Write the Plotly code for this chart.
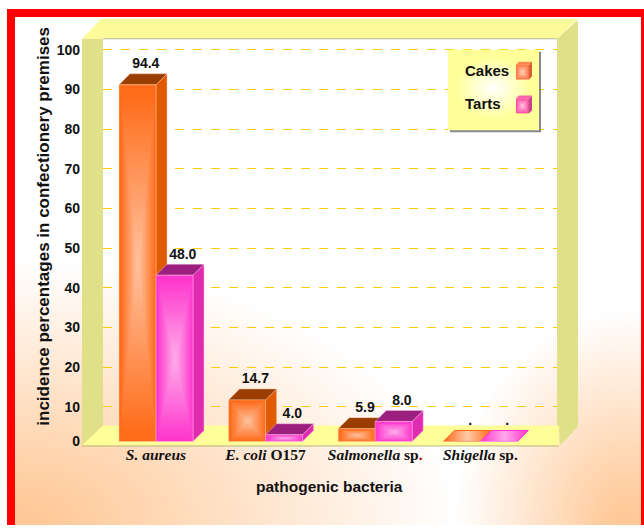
import base64, struct, zlib
import numpy as np
import plotly.graph_objects as go

# ---- data ----
categories = ["<b><i>S. aureus</i></b>", "<b><i>E. coli</i> O157</b>",
              '<b><i>Salmonella</i> sp<span style="color:#a00000">.</span></b>',
              "<b><i>Shigella</i> sp.</b>"]
cakes_labels = ["94.4", "14.7", "5.9", "."]
tarts_labels = ["48.0", "4.0", "8.0", "."]
# front-face heights as actually drawn in the picture
cakes_heights = [94.4, 11.0, 3.4, 0.0]
tarts_heights = [44.0, 1.8, 5.3, 0.0]
category_positions = [0, 1, 2, 2.96]
grid_ticks = [10, 20, 30, 40, 50, 60, 70, 80, 90, 100]

W, H = 644, 528
px = lambda x: x / W
py = lambda y: 1 - y / H

# ---- raster helper for soft backgrounds ----
def png_uri(rgb):
    rgb = np.clip(rgb, 0, 255).astype(np.uint8)
    h, w, _ = rgb.shape
    raw = b"".join(b"\x00" + rgb[r].tobytes() for r in range(h))
    def chunk(t, d):
        return struct.pack(">I", len(d)) + t + d + struct.pack(">I", zlib.crc32(t + d) & 0xffffffff)
    data = (b"\x89PNG\r\n\x1a\n" + chunk(b"IHDR", struct.pack(">IIBBBBB", w, h, 8, 2, 0, 0, 0))
            + chunk(b"IDAT", zlib.compress(raw)) + chunk(b"IEND", b""))
    return "data:image/png;base64," + base64.b64encode(data).decode()

yy, xx = np.mgrid[0:H, 0:W]
t1 = np.clip(1 - np.sqrt(((xx - 15) / 440.0) ** 2 + ((yy - 528) / 265.0) ** 2), 0, 1)
t2 = np.clip(1 - np.sqrt(((xx - 625) / 170.0) ** 2 + ((yy - 528) / 215.0) ** 2), 0, 1)
t = np.clip(np.maximum(t1, t2) * 1.05, 0, 1)[..., None]
bg = (1 - t) * np.array([255, 255, 255]) + t * np.array([255, 200, 150])

lh, lw = 81, 91
ly, lx = np.mgrid[0:lh, 0:lw]
lt = np.clip(1 - np.sqrt(((lx - 45) / 38.0) ** 2 + ((ly - 38) / 32.0) ** 2), 0, 1)[..., None]
legend_bg = (1 - lt) * np.array([255, 255, 153]) + lt * np.array([255, 255, 255])

def pillow(w, h, edge, center):
    y, x = np.mgrid[0:h, 0:w]
    u = 1 - np.abs(2 * (x + .5) / w - 1)
    v = 1 - np.abs(2 * (y + .5) / h - 1)
    m = np.minimum(u, v)[..., None]
    return (1 - m) * np.array(edge) + m * np.array(center)

images = [
    dict(source=png_uri(bg), xref="paper", yref="paper", x=0, y=1, sizex=1, sizey=1,
         sizing="stretch", xanchor="left", yanchor="top", layer="below"),
    dict(source=png_uri(legend_bg), xref="paper", yref="paper", x=px(448), y=py(50),
         sizex=91 / W, sizey=81 / H, sizing="stretch", xanchor="left", yanchor="top", layer="above"),
    dict(source=png_uri(pillow(13, 15, (255, 110, 60), (255, 215, 190))), xref="paper", yref="paper",
         x=px(516), y=py(65), sizex=13 / W, sizey=15 / H, sizing="stretch", xanchor="left", yanchor="top", layer="above"),
    dict(source=png_uri(pillow(13, 15, (255, 70, 160), (255, 200, 225))), xref="paper", yref="paper",
         x=px(516), y=py(99), sizex=13 / W, sizey=15 / H, sizing="stretch", xanchor="left", yanchor="top", layer="above"),
]

def poly(points, fill, layer="below", line=None):
    path = "M" + " L".join(f"{px(x):.5f},{py(y):.5f}" for x, y in points) + " Z"
    return dict(type="path", path=path, xref="paper", yref="paper", fillcolor=fill, layer=layer,
                line=dict(width=0 if line is None else 1, color=line or fill))

WALL, BAND, FLOOR = "#e0e088", "#fdfb99", "#ffff99"
shapes = [
    poly([(82, 39), (103, 39), (103, 428), (82, 448)], WALL),
    poly([(82, 39), (101, 19), (578, 19), (557, 39)], BAND),
    poly([(82, 448), (103, 428), (559, 428), (559, 448)], FLOOR),
    poly([(557, 39), (578, 20), (578, 429), (560, 448), (559, 428), (557, 428)], WALL),
    dict(type="line", xref="paper", yref="paper", x0=px(103), x1=px(557), y0=py(39), y1=py(39),
         line=dict(color="#b8b8a0", width=1), layer="below"),
    dict(type="line", xref="paper", yref="paper", x0=px(82), x1=px(559), y0=py(448.5), y1=py(448.5),
         line=dict(color="#b8b870", width=1), layer="below"),
    # page frame
    poly([(7, 9), (644, 9), (644, 17), (15, 17), (15, 528), (7, 528)], "#ff0000"),
    poly([(641, 17), (644, 17), (644, 528), (641, 528)], "#ff0000"),
    # white outside the frame
    poly([(0, 0), (644, 0), (644, 9), (7, 9), (7, 528), (0, 528)], "#ffffff"),
    # legend shadow and swatch faces
    poly([(539, 52), (541, 52), (541, 133), (450, 133), (450, 131), (539, 131)], "#888888", "above"),
    poly([(516, 65), (519, 62), (532, 62), (529, 65)], "#ff8850", "above"),
    poly([(529, 65), (532, 62), (532, 77), (529, 80)], "#d86038", "above"),
    poly([(516, 99), (519, 96), (532, 96), (529, 99)], "#ff60b0", "above"),
    poly([(529, 99), (532, 96), (532, 111), (529, 114)], "#c04888", "above"),
]

# ---- axes geometry ----
BW = 0.3376           # bar width in category units
DX = 11 / 109.6       # 3D depth, x
DY = 2.9              # 3D depth, y
LIFT = 2.4            # label lift above the top face
X_RANGE = [-0.4836, 3.659]
Y_RANGE = [0, 107.8]
FRONT_RANGE = [-1.316, 111.84]
DOMAIN = [py(449), py(19)]

series = [
    dict(name="Cakes", heights=cakes_heights, labels=cakes_labels, off=-BW, front="#ff6814",
         side="#e05a00", top="#993d00", line="rgba(255,200,165,0.45)", mid="#ffcba8"),
    dict(name="Tarts", heights=tarts_heights, labels=tarts_labels, off=0.0, front="#ff33cc",
         side="#e02ab0", top="#9b1f7f", line="rgba(255,190,235,0.45)", mid="#ffa8ec"),
]

fig = go.Figure()

# keeps the back-wall axis (grid and tick labels) alive
fig.add_trace(go.Scatter(x=[0], y=[0], mode="markers", marker=dict(opacity=0), yaxis="y",
                         showlegend=False, hoverinfo="skip"))

# side and top faces
for s in series:
    for pos, h in zip(category_positions, s["heights"]):
        x0, x1 = pos + s["off"], pos + s["off"] + BW
        if h > 0:
            fig.add_trace(go.Scatter(x=[x1, x1 + DX, x1 + DX, x1, x1], y=[h, h + DY, DY, 0, h],
                                     fill="toself", fillcolor=s["side"], mode="lines",
                                     line=dict(width=1, color=s["line"]), yaxis="y2",
                                     showlegend=False, hoverinfo="skip"))
            fig.add_trace(go.Scatter(x=[x0, x1, x1 + DX, x0 + DX, x0], y=[h, h, h + DY, h + DY, h],
                                     fill="toself", fillcolor=s["top"], mode="lines",
                                     line=dict(width=1, color=s["line"]), yaxis="y2",
                                     showlegend=False, hoverinfo="skip"))
        else:
            fig.add_trace(go.Scatter(x=[x0, x1, x1 + DX, x0 + DX, x0], y=[h, h, h + DY, h + DY, h],
                                     fill="toself", mode="lines", line=dict(width=1, color=s["front"]),
                                     fillgradient=dict(type="horizontal",
                                                       colorscale=[[0, s["front"]], [0.5, s["mid"]], [1, s["front"]]]),
                                     yaxis="y2", showlegend=False, hoverinfo="skip"))

# front faces
for s in series:
    fig.add_trace(go.Bar(x=category_positions, y=s["heights"], name=s["name"], width=BW, offset=s["off"],
                         marker_color=s["front"], marker_line=dict(width=1, color=s["line"]),
                         yaxis="y3", showlegend=False, hoverinfo="x+y"))

# soft shading over the front faces
N = 24
m = (np.arange(N) + .5) / N
shade = np.minimum.outer(1 - np.abs(2 * m - 1), 1 - np.abs(2 * m - 1))
for s in series:
    for pos, h in zip(category_positions, s["heights"]):
        if h <= 0:
            continue
        x0 = pos + s["off"]
        fig.add_trace(go.Heatmap(x=np.linspace(x0, x0 + BW, N + 1).tolist(),
                                 y=np.linspace(0, h, N + 1).tolist(), z=shade.tolist(),
                                 zsmooth="best", zmin=0, zmax=1, showscale=False, hoverinfo="skip",
                                 colorscale=[[0, "rgba(255,255,255,0)"], [1, "rgba(255,255,255,0.6)"]],
                                 yaxis="y4"))

# data labels
for s in series:
    fig.add_trace(go.Scatter(x=[pos + s["off"] + BW / 2 + DX * 0.75 for pos in category_positions],
                             y=[h + DY + LIFT for h in s["heights"]], text=s["labels"], mode="text",
                             textposition="middle center",
                             textfont=dict(family="Liberation Sans", size=14, color="#111111", weight="bold"),
                             yaxis="y4", showlegend=False, hoverinfo="skip"))

tick_font = dict(family="Liberation Sans", size=14, color="#111111", weight="bold")
hidden = dict(domain=DOMAIN, range=FRONT_RANGE, overlaying="y", visible=False, fixedrange=True)
fig.update_layout(
    width=W, height=H, autosize=False, margin=dict(l=0, r=0, t=0, b=0),
    paper_bgcolor="white", plot_bgcolor="rgba(0,0,0,0)",
    barmode="overlay", showlegend=False,
    images=images, shapes=shapes,
    xaxis=dict(domain=[px(103), px(557)], range=X_RANGE, tickmode="array", tickvals=category_positions,
               ticktext=categories, showgrid=False, zeroline=False, showline=False, ticks="",
               tickangle=0, ticklabelstandoff=-3,
               tickfont=dict(family="Liberation Serif", size=15.5, color="#111111")),
    yaxis=dict(domain=DOMAIN, range=Y_RANGE, anchor="free", position=px(80), tickmode="array",
               tickvals=grid_ticks, showgrid=True, gridcolor="#ffcc00", griddash="dash", gridwidth=1.4,
               zeroline=False, showline=False, ticks="", tickfont=tick_font),
    yaxis2=dict(domain=DOMAIN, range=FRONT_RANGE, overlaying="y", anchor="free", position=px(80),
                tickmode="array", tickvals=[0], showgrid=False, zeroline=False, showline=False,
                ticks="", tickfont=tick_font),
    yaxis3=hidden, yaxis4=hidden,
    annotations=[
        dict(text="<b>incidence percentages in confectionery premises</b>", xref="paper", yref="paper",
             x=px(44), y=py(228), textangle=-90, showarrow=False, xanchor="center", yanchor="middle",
             font=dict(family="Liberation Sans", size=17, color="#111111")),
        dict(text="<b>pathogenic bacteria</b>", xref="paper", yref="paper", x=px(329), y=py(489),
             showarrow=False, xanchor="center", yanchor="middle",
             font=dict(family="Liberation Sans", size=15.5, color="#111111")),
        dict(text="<b>Cakes</b>", xref="paper", yref="paper", x=px(463), y=py(71), showarrow=False,
             xanchor="left", yanchor="middle", font=dict(family="Liberation Sans", size=15, color="#111111")),
        dict(text="<b>Tarts</b>", xref="paper", yref="paper", x=px(463), y=py(104), showarrow=False,
             xanchor="left", yanchor="middle", font=dict(family="Liberation Sans", size=15, color="#111111")),
    ],
)

fig.write_html("out.html", config=dict(displayModeBar=False),
               post_script="document.body.style.margin='0';")
